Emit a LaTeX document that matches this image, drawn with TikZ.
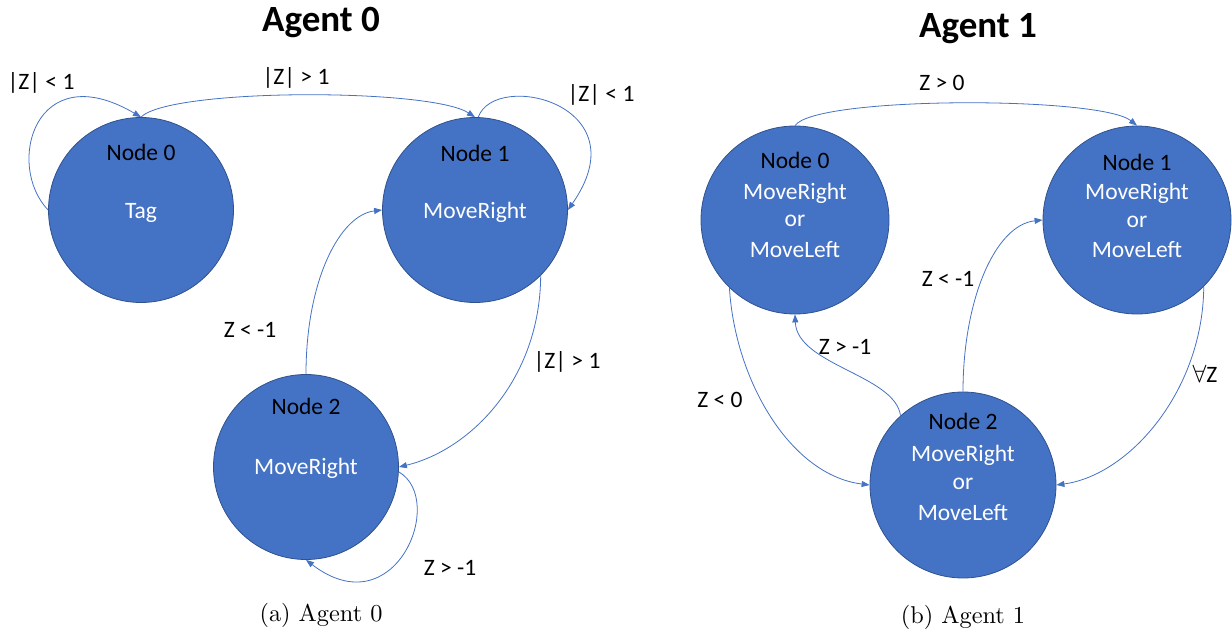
\documentclass[tikz,border=0pt]{standalone}
\usepackage{fontspec}
\newfontfamily\carl{Carlito}
\newfontfamily\capfont{lmroman10-regular.otf}
\usetikzlibrary{arrows.meta}
\definecolor{nodefill}{HTML}{4472C4}
\definecolor{nodeedge}{HTML}{2F528F}
\definecolor{edgeblue}{HTML}{4472C4}

\tikzset{
  statecircle/.style={circle, fill=nodefill, draw=nodeedge, line width=0.8pt,
    minimum size=#1, inner sep=0pt},
  headtxt/.style={font=\carl\fontsize{23.5}{28}\selectfont, text=black,
    inner sep=0pt, text height=15pt, text depth=0pt},
  acttxt/.style={headtxt, text=white},
  edgelbl/.style={headtxt},
  paneltitle/.style={font=\carl\bfseries\fontsize{37}{42}\selectfont,
    inner sep=0pt, text height=24pt, text depth=0pt},
  panelcaption/.style={font=\capfont\fontsize{24.3}{28}\selectfont,
    inner sep=0pt, text height=16.4pt, text depth=0pt},
  trans/.style={draw=edgeblue, line width=0.8pt,
    -{Triangle[length=8pt,width=6pt]}},
}

\begin{document}
\begin{tikzpicture}[x=1pt,y=-1pt]
\useasboundingbox (0,0) rectangle (1232,634);

% ---------------- Agent 0 ----------------
\node[paneltitle] (a0title) at (321,20) {Agent 0};

\node[statecircle=185pt] (a0n0) at (141,210) {};
\node[statecircle=185pt] (a0n1) at (475,210) {};
\node[statecircle=185pt] (a0n2) at (306,467) {};

\node[headtxt] (a0n0h) at (141,153) {Node 0};
\node[acttxt]  (a0n0a) at (141,211) {Tag};
\node[headtxt] (a0n1h) at (475,154) {Node 1};
\node[acttxt]  (a0n1a) at (475,211) {MoveRight};
\node[headtxt] (a0n2h) at (306,407) {Node 2};
\node[acttxt]  (a0n2a) at (306,467) {MoveRight};

\draw[trans] (a0n0.180) .. controls (5,165) and (35,55) .. (a0n0.90);
\draw[trans] (a0n0.90) .. controls (170,88) and (430,88) .. (a0n1.90);
\draw[trans] (a0n1.88) .. controls (495,70) and (642,104) .. (a0n1.0);
\draw[trans] (a0n2.90) .. controls (306,280) and (340,215) .. (a0n1.180);
\draw[trans] (a0n1.-45) .. controls (540,380) and (470,450) .. (a0n2.0);
\draw[trans] (a0n2.-3) .. controls (447,500) and (395,628) .. (a0n2.-90);

\node[edgelbl] (a0l1) at (41,82) {|Z| < 1};
\node[edgelbl] (a0l2) at (296,77) {|Z| > 1};
\node[edgelbl] (a0l3) at (601,94) {|Z| < 1};
\node[edgelbl] (a0l4) at (250,330) {Z < -1};
\node[edgelbl] (a0l5) at (567,361) {|Z| > 1};
\node[edgelbl] (a0l6) at (450,568) {Z > -1};

\node[panelcaption] (a0cap) at (321,613) {(a) Agent 0};

% ---------------- Agent 1 ----------------
\node[paneltitle] (a1title) at (978,26) {Agent 1};

\node[statecircle=188pt] (a1n0) at (795,220) {};
\node[statecircle=188pt] (a1n1) at (1137,220) {};
\node[statecircle=186pt] (a1n2) at (963,485) {};

\node[headtxt] (a1n0h) at (795,161) {Node 0};
\node[acttxt]  (a1n0a) at (795,192) {MoveRight};
\node[acttxt]  (a1n0b) at (795,219) {or};
\node[acttxt]  (a1n0c) at (795,250) {MoveLeft};

\node[headtxt] (a1n1h) at (1137,163) {Node 1};
\node[acttxt]  (a1n1a) at (1137,192) {MoveRight};
\node[acttxt]  (a1n1b) at (1137,220) {or};
\node[acttxt]  (a1n1c) at (1137,250) {MoveLeft};

\node[headtxt] (a1n2h) at (963,422) {Node 2};
\node[acttxt]  (a1n2a) at (963,454) {MoveRight};
\node[acttxt]  (a1n2b) at (963,482) {or};
\node[acttxt]  (a1n2c) at (963,513) {MoveLeft};

\draw[trans] (a1n0.90) .. controls (815,96) and (1100,96) .. (a1n1.90);
\draw[trans] (a1n2.90) .. controls (963,300) and (995,225) .. (a1n1.180);
\draw[trans] (a1n2.132) .. controls (895,375) and (797,365) .. (a1n0.-90);
\draw[trans] (a1n0.226) .. controls (735,380) and (790,475) .. (a1n2.180);
\draw[trans] (a1n1.-45) .. controls (1203,390) and (1130,475) .. (a1n2.0);

\node[edgelbl] (a1l1) at (942,83) {Z > 0};
\node[edgelbl] (a1l2) at (948,279) {Z < -1};
\node[edgelbl] (a1l3) at (845,347) {Z > -1};
\node[edgelbl] (a1l4) at (720,400) {Z < 0};
\node[edgelbl] (a1l5) at (1205,375) {$\forall$Z};

\node[panelcaption] (a1cap) at (963,615) {(b) Agent 1};
\end{tikzpicture}
\end{document}
